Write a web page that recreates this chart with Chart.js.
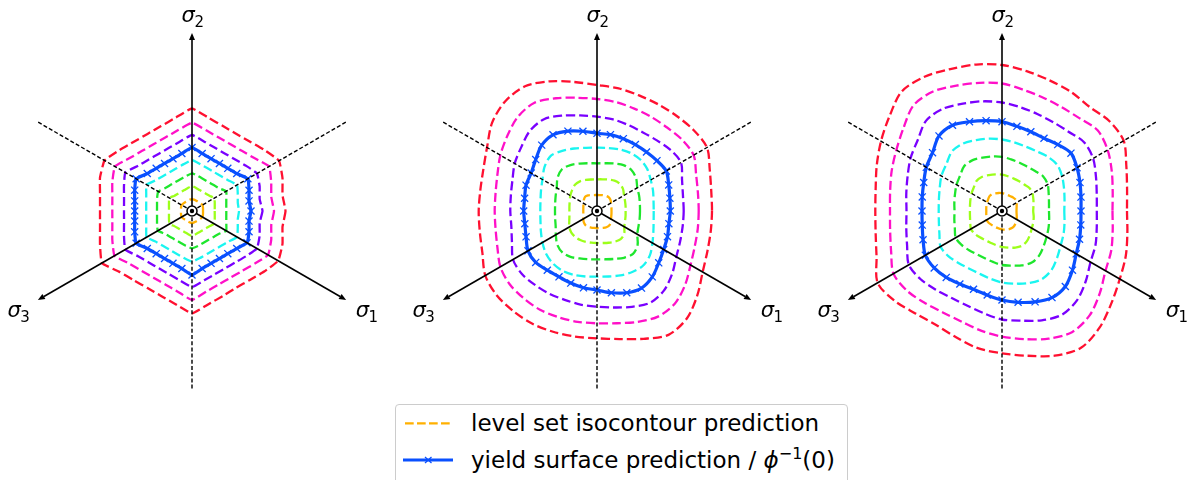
<!DOCTYPE html>
<html>
<head>
<meta charset="utf-8">
<script src="https://cdn.jsdelivr.net/npm/chart.js@4.4.1/dist/chart.umd.min.js"></script>
<style>
  html, body { margin: 0; padding: 0; background: #fff; width: 1191px; height: 480px; overflow: hidden; position: relative; font-family: 'DejaVu Sans', sans-serif; }
  canvas.panel { position: absolute; top: 0; }
  #legend-box { position: absolute; left: 395px; top: 404px; width: 451px; height: 95px; border: 1px solid #cccccc; border-radius: 4px; background: rgba(255,255,255,0.8); }
  .leg-text { position: absolute; font-size: 23px; line-height: 23px; white-space: nowrap; color: #000; }
  .leg-handle { position: absolute; overflow: visible; }
  .math-i { font-style: italic; }
  .sup { font-size: 16px; position: relative; top: -9px; }
</style>
</head>
<body>
<canvas id="panel1" class="panel" width="384" height="400" style="left:0px"></canvas>
<canvas id="panel2" class="panel" width="384" height="400" style="left:405px"></canvas>
<canvas id="panel3" class="panel" width="384" height="400" style="left:810px"></canvas>

<div id="legend-box"></div>
<svg class="leg-handle" style="left:405px;top:418px" width="48" height="10">
  <line x1="0" y1="5.3" x2="47" y2="5.3" stroke="#FFB000" stroke-width="2.2" stroke-dasharray="8.7 3.3"/>
</svg>
<div class="leg-text" style="left:471px;top:411.5px">level set isocontour prediction</div>
<svg class="leg-handle" style="left:403px;top:452px" width="52" height="16">
  <line x1="0" y1="8" x2="50" y2="8" stroke="#0A50FF" stroke-width="3"/>
  <path d="M22 5 L28.5 11 M22 11 L28.5 5" stroke="#0A50FF" stroke-width="1.3"/>
</svg>
<div class="leg-text" style="left:471px;top:448.5px">yield surface prediction / <span class="math-i">ϕ</span><span class="sup">−1</span>(0)</div>

<script>
// Polar sampling directions, degrees counter-clockwise from the +x direction of the deviatoric plane.
const ANGLES_DEG = [0, 10, 20, 30, 40, 50, 60, 70, 80, 90, 100, 110, 120, 130, 140, 150, 160, 170,
                    180, 190, 200, 210, 220, 230, 240, 250, 260, 270, 280, 290, 300, 310, 320, 330, 340, 350];

// Radius of each isocontour at ANGLES_DEG (same order), innermost level first.
// Panel 1
const p1Orange  = [11, 11.2, 11.6, 12, 11.6, 11.2, 11, 11.2, 11.6, 11.8, 11.6, 11.2, 11, 11.2, 11.6, 12, 11.6, 11.2, 11, 11.2, 11.6, 12, 11.6, 11.2, 11, 11.2, 11.6, 12.2, 11.6, 11.2, 11, 11.2, 11.6, 12, 11.6, 11.2];
const p1Lime    = [22.7, 23.1, 24.2, 25.8, 23.4, 22.3, 22, 22.3, 23.4, 25, 23.4, 22.3, 22, 22.3, 23.4, 26.2, 24.5, 23.4, 23, 23.4, 24.5, 26, 23.4, 22.3, 22, 22.3, 23.4, 25, 23.4, 22.3, 22, 22.3, 23.4, 25.4, 24.2, 23.1];
const p1Green   = [34.3, 34.8, 36.5, 39.5, 35.4, 33.8, 33.3, 33.8, 35.4, 37.7, 35.4, 33.8, 33.3, 33.8, 35.4, 39, 37.2, 35.5, 35, 35.5, 37.2, 39.5, 35.4, 33.8, 33.3, 33.8, 35.4, 37.3, 35.4, 33.8, 33.3, 33.8, 35.4, 39.5, 36.5, 34.8];
const p1Cyan    = [47, 46.5, 48.7, 52, 47.6, 45.4, 44.7, 45.4, 47.6, 51, 47.6, 45.4, 44.7, 45.4, 47.6, 52.5, 48.7, 46.5, 45.8, 46.5, 48.7, 52.5, 47.6, 45.4, 44.7, 45.4, 47.6, 50.7, 47.6, 45.4, 44.7, 45.4, 47.6, 52, 48.7, 46.5];
const p1Blue    = [59, 57.9, 60.7, 64.5, 58.4, 55.7, 54.9, 55.7, 58.4, 63.5, 58.4, 55.7, 54.9, 55.7, 58.4, 64.5, 61, 58.2, 57.3, 58.2, 61, 64.5, 58.4, 55.7, 54.9, 55.7, 58.4, 64, 58.4, 55.7, 54.9, 55.7, 58.4, 63.5, 60.7, 57.9];
const p1Purple  = [70.5, 68.7, 72, 75, 70.4, 67.2, 66.2, 67.2, 70.4, 76, 70.4, 67.2, 66.2, 67.2, 70.4, 77, 72.4, 69, 68, 69, 72.4, 77, 70.4, 67.2, 66.2, 67.2, 70.4, 76, 70.4, 67.2, 66.2, 67.2, 70.4, 75, 72, 68.7];
const p1Magenta = [82, 80.5, 84.3, 89, 81.9, 78.2, 77, 78.2, 81.9, 88.3, 81.9, 78.2, 77, 78.2, 81.9, 89, 84.8, 80.9, 79.7, 80.9, 84.8, 89.5, 81.9, 78.2, 77, 78.2, 81.9, 89, 81.9, 78.2, 77, 78.2, 81.9, 87.8, 84.3, 80.5];
const p1Red     = [93.5, 91.9, 96.3, 100.5, 94.7, 90.4, 89, 90.4, 94.7, 102.5, 94.7, 90.4, 89, 90.4, 94.7, 101, 97.9, 93.4, 92, 93.4, 97.9, 104, 94.7, 90.4, 89, 90.4, 94.7, 102.3, 94.7, 90.4, 88.5, 90, 94.2, 99.5, 96.3, 91.9];

// Panel 2
const p2Orange  = [14.5, 14.7, 15.2, 16.2, 17.5, 18, 17.6, 16.8, 16.2, 16, 16.2, 17, 18, 18.5, 17.2, 15.6, 14.5, 13.9, 13.7, 13.9, 14.6, 15.8, 17.3, 18.2, 18.2, 17.6, 17.2, 17, 17.3, 18, 18.8, 19, 17.8, 16.2, 15.2, 14.7];
const p2Lime    = [28.6, 29, 29.8, 31.2, 34, 35.5, 35, 33.5, 32.2, 31.7, 32, 33, 34.2, 34.3, 32.5, 30.8, 29, 28, 27.6, 28, 29.5, 32, 33.5, 33.8, 33.5, 32.8, 32.2, 32, 32.5, 33.8, 35.5, 36.8, 35.5, 31.5, 29.8, 29];
const p2Green   = [43, 43.5, 44.8, 46.5, 51, 53.5, 53, 50.5, 48.5, 47.7, 48.5, 50.5, 53, 54.5, 51.5, 46.5, 44, 42.5, 42, 42.5, 44, 47.5, 52, 54, 53, 50.5, 49, 48.3, 49, 51, 54, 56, 53, 46.5, 44.2, 43.3];
const p2Cyan    = [56.7, 57.4, 59.6, 62, 65.5, 67.2, 67, 65.6, 64, 63.3, 64.2, 66.5, 69.5, 72, 68.5, 63, 59.6, 57.4, 56.7, 57.4, 59.7, 63, 66.5, 68.5, 69, 68, 66.5, 65.7, 66.5, 68.5, 70.5, 71.5, 69, 64, 60, 57.5];
const p2Blue    = [73.3, 74, 76.3, 80, 78.3, 77, 76.7, 77, 77.5, 77.7, 81, 85, 88, 86, 80, 76, 75.5, 73.5, 73.3, 73.3, 75.5, 79.7, 80, 77.3, 76, 76.7, 78, 79, 83, 87, 89, 86, 80.6, 77, 75, 73];
const p2Purple  = [86.7, 87.3, 90.5, 97, 95.5, 92.5, 91, 91.5, 93, 94.3, 97, 101.5, 106, 104.5, 99, 95, 90, 87.5, 86.7, 87, 90.5, 97, 98, 96.5, 95.5, 94.5, 95, 95.7, 98, 102, 106, 104, 98, 91.6, 88.5, 87];
const p2Magenta = [101.7, 102.5, 105.5, 111.6, 111, 109, 108.6, 109, 110.5, 112, 115, 120, 125, 123, 117, 111.6, 106, 103, 102.3, 103, 106, 111.6, 114, 114, 114, 113, 112.5, 112.3, 114, 118, 122, 121, 115, 108, 104, 102.3];
const p2Red     = [115, 116, 120, 127, 126, 124, 123, 123, 124.5, 126, 131, 138, 144, 143, 137, 127, 121, 118.5, 118.3, 119, 122, 129, 131, 130.5, 130, 128.5, 127.5, 127.3, 130, 136, 143, 140, 131, 122, 117.5, 115.5];

// Panel 3
const p3Orange  = [14.5, 14.8, 15.6, 17, 17.8, 17.5, 17, 17, 17.3, 17.8, 18.3, 18.8, 19.4, 19.4, 18.1, 17.3, 16.5, 16, 15.7, 16, 16.6, 17.7, 17.8, 17.4, 17.2, 17.4, 17.8, 18.5, 19, 19.5, 19.7, 19.2, 18, 16.9, 15.7, 14.8];
const p3Lime    = [31.2, 32, 33.4, 35.2, 35.8, 34.6, 34.3, 34.5, 35.2, 36.4, 37.2, 38.2, 39.5, 39.4, 36.8, 35.2, 33.6, 32.5, 32.1, 32.5, 33.8, 35.9, 35.5, 34.4, 33.6, 33.7, 34.7, 35.9, 37.2, 38.9, 40.1, 39, 36.6, 34.4, 33.3, 32.2];
const p3Green   = [47, 47.7, 49.7, 52.8, 53.8, 52, 51, 51.4, 52.4, 54.2, 55.4, 56.8, 58.7, 58.7, 54.8, 52.5, 50, 48.4, 47.5, 48.4, 50.2, 53.5, 52.8, 51.2, 50, 50.2, 51.7, 54, 55.4, 57.9, 59.6, 58, 54.4, 51.5, 49.5, 47.9];
const p3Cyan    = [62.3, 63.5, 66, 69.4, 72, 71, 69, 68.6, 69.8, 71.5, 73.5, 75.4, 77.9, 77.8, 72.7, 70, 66.3, 64.1, 63.3, 64.1, 66.6, 71, 70.1, 67.8, 66.3, 66.6, 68.6, 71.5, 73.8, 76.8, 79, 77, 72.1, 67.9, 65.6, 63.5];
const p3Blue    = [79, 80.2, 83, 86.6, 90, 86.7, 84, 84.3, 86, 89.3, 91.7, 95, 99, 98, 90.7, 87.4, 83.3, 81, 80, 81, 84, 88.5, 88.5, 86.7, 84.3, 83.3, 85.3, 89, 92.7, 96.7, 100, 98.5, 92, 85.7, 82.5, 80];
const p3Purple  = [94.8, 96.2, 100, 105.2, 107.1, 103.5, 102.5, 103.2, 105.4, 108.5, 111.4, 114.2, 118.1, 118, 110.1, 105.6, 100.5, 97.2, 95.5, 97.2, 101, 107.6, 106.2, 102.8, 100.5, 100.9, 103.9, 108.5, 111.4, 116.3, 119.8, 116.6, 109.3, 102.2, 99.5, 96.2];
const p3Magenta = [110.5, 112.4, 116.8, 122, 125.1, 120.9, 119.7, 120.6, 123.1, 127.5, 130.1, 133.4, 137.9, 137.8, 128.7, 122, 117.4, 113.6, 112, 113.6, 118, 125.3, 124, 120.1, 117.4, 117.8, 121.4, 125.6, 130.1, 135.9, 139.9, 136.3, 127.7, 119.5, 116.2, 112.4];
const p3Red     = [125, 127, 132.3, 140.5, 140, 136, 137.7, 139, 142, 146, 148.7, 151, 155, 156, 147, 139.7, 133.3, 128.3, 126.7, 128.3, 133.5, 143.6, 140, 134, 131.7, 134.3, 139.3, 142.3, 147, 154, 158, 152, 143, 136, 131.7, 127.3];

// Principal stress axes: direction (deg) and subscript
const AXIS_DIRS = [-30, 90, 210];
const AXIS_NAMES = ['1', '2', '3'];
const AXIS_LEN = 178;                 // radial extent of the drawn axes (data units)
const LABEL_DIST = [201, 194.5, 201]; // where each σ label sits along its axis

// Styling
const LEVEL_COLORS = ['#FFB000', '#9CFF1A', '#1EE62D', '#1AF5F0', '#0A50FF', '#7A00FF', '#FF10C8', '#FF1030'];
const YIELD_LEVEL = 4;                // the φ = 0 level, drawn solid with markers
const PANEL_TENSION = [0.12, 0.3, 0.3];

const PANELS = [
  { id: 'panel1', levels: [p1Orange, p1Lime, p1Green, p1Cyan, p1Blue, p1Purple, p1Magenta, p1Red] },
  { id: 'panel2', levels: [p2Orange, p2Lime, p2Green, p2Cyan, p2Blue, p2Purple, p2Magenta, p2Red] },
  { id: 'panel3', levels: [p3Orange, p3Lime, p3Green, p3Cyan, p3Blue, p3Purple, p3Magenta, p3Red] }
];

// The radar scale runs clockwise from startAngle; the lists above run counter-clockwise from +x.
function radarOrder(values) {
  const n = values.length;
  return values.map((_, j) => values[(n - j) % n]);
}

const axesPlugin = {
  id: 'principalAxes',
  afterDatasetsDraw(chart) {
    const s = chart.scales.r;
    const ctx = chart.ctx;
    const cx = s.xCenter, cy = s.yCenter;
    const at = (deg, v) => {
      const d = s.getDistanceFromCenterForValue(v);
      const a = deg * Math.PI / 180;
      return { x: cx + Math.cos(a) * d, y: cy - Math.sin(a) * d };
    };
    ctx.save();
    ctx.strokeStyle = '#000';
    ctx.fillStyle = '#000';

    AXIS_DIRS.forEach((deg, i) => {
      // negative direction: dashed
      const neg = at(deg + 180, AXIS_LEN);
      ctx.setLineDash([4, 2.2]);
      ctx.lineWidth = 1.4;
      ctx.beginPath();
      ctx.moveTo(cx, cy);
      ctx.lineTo(neg.x, neg.y);
      ctx.stroke();

      // positive direction: solid with arrowhead
      const tip = at(deg, AXIS_LEN);
      const a = deg * Math.PI / 180;
      const ux = Math.cos(a), uy = -Math.sin(a);
      const head = 7, half = 3;
      const bx = tip.x - ux * head, by = tip.y - uy * head;
      ctx.setLineDash([]);
      ctx.lineWidth = 1.6;
      ctx.beginPath();
      ctx.moveTo(cx, cy);
      ctx.lineTo(bx, by);
      ctx.stroke();
      ctx.beginPath();
      ctx.moveTo(tip.x, tip.y);
      ctx.lineTo(bx - uy * half, by + ux * half);
      ctx.lineTo(bx + uy * half, by - ux * half);
      ctx.closePath();
      ctx.fill();

      // σ label with subscript
      const p = at(deg, LABEL_DIST[i]);
      ctx.font = 'italic 21px "DejaVu Sans"';
      const wSig = ctx.measureText('σ').width;
      ctx.font = '15px "DejaVu Sans"';
      const wSub = ctx.measureText(AXIS_NAMES[i]).width;
      const x0 = p.x - (wSig + wSub) / 2 + 1;
      const base = p.y + 5.5;
      ctx.textAlign = 'left';
      ctx.textBaseline = 'alphabetic';
      ctx.font = 'italic 21px "DejaVu Sans"';
      ctx.fillText('σ', x0, base);
      ctx.font = '15px "DejaVu Sans"';
      ctx.fillText(AXIS_NAMES[i], x0 + wSig - 0.5, base + 4.5);
    });

    // hydrostatic axis marker (pointing out of the plane)
    ctx.setLineDash([]);
    ctx.beginPath();
    ctx.arc(cx, cy, 5, 0, Math.PI * 2);
    ctx.fillStyle = '#fff';
    ctx.fill();
    ctx.lineWidth = 1.5;
    ctx.stroke();
    ctx.beginPath();
    ctx.arc(cx, cy, 2.2, 0, Math.PI * 2);
    ctx.fillStyle = '#000';
    ctx.fill();
    ctx.restore();
  }
};

PANELS.forEach((panel, pi) => {
  const datasets = panel.levels.map((vals, li) => {
    const isYield = li === YIELD_LEVEL;
    return {
      data: radarOrder(vals),
      borderColor: LEVEL_COLORS[li],
      backgroundColor: LEVEL_COLORS[li],
      fill: false,
      borderWidth: isYield ? 3.2 : 2.3,
      borderDash: isYield ? [] : [9, 4],
      borderCapStyle: 'butt',
      borderJoinStyle: 'round',
      tension: PANEL_TENSION[pi],
      pointRadius: isYield ? 5 : 0,
      pointStyle: 'crossRot',
      pointBorderColor: LEVEL_COLORS[li],
      pointBorderWidth: 1.3,
      pointHoverRadius: 0
    };
  });
  new Chart(document.getElementById(panel.id), {
    type: 'radar',
    data: { labels: radarOrder(ANGLES_DEG).map(a => a + '°'), datasets },
    options: {
      responsive: false,
      animation: false,
      events: [],
      layout: { padding: { left: 14, right: 14, top: 33, bottom: 11 } },
      plugins: { legend: { display: false }, tooltip: { enabled: false } },
      scales: {
        r: {
          min: 0,
          max: AXIS_LEN,
          startAngle: 90,
          grid: { display: false },
          angleLines: { display: false },
          ticks: { display: false },
          pointLabels: { display: false }
        }
      }
    },
    plugins: [axesPlugin]
  });
});
</script>
</body>
</html>
